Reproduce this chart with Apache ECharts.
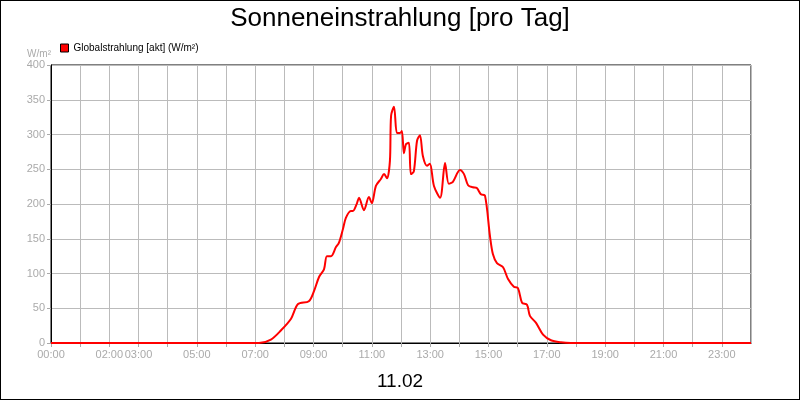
<!DOCTYPE html>
<html><head><meta charset="utf-8">
<script src="https://cdn.jsdelivr.net/npm/echarts@6/dist/echarts.min.js"></script>
<style>html,body{margin:0;padding:0;}#c{width:798px;height:398px;border:1px solid #000;background:#fff;}</style>
</head><body><div id="c"></div>
<script>
const hours = [0,7.13,7.54,7.88,8.23,8.47,8.84,9.02,9.19,9.36,9.46,9.60,9.77,9.87,10.01,10.11,10.28,10.35,10.49,10.56,10.73,10.90,11.00,11.14,11.31,11.42,11.52,11.62,11.66,11.76,11.86,11.96,12.03,12.10,12.17,12.27,12.34,12.44,12.55,12.65,12.75,12.89,12.99,13.13,13.34,13.51,13.64,13.78,14.02,14.16,14.30,14.47,14.60,14.74,14.88,15.05,15.15,15.29,15.50,15.67,15.87,16.01,16.15,16.32,16.42,16.63,16.87,17.14,17.48,17.83,24];
const values = [0,0,5,18,35,56,60,75,95,106,125,125,138,144,164,180,190,190,201,209,191,210,201,226,236,243,237,262,327,340,302,302,305,273,286,288,243,247,291,299,269,255,258,226,209,259,229,232,249,243,227,224,223,214,212,154,128,115,109,92,81,79,58,55,39,29,12,4,1,0,0];
const shownLabels = [0,2,3,5,7,9,11,13,15,17,19,21,23];
const yTicks = [0,50,100,150,200,250,300,350,400];
const title = 'Sonneneinstrahlung [pro Tag]';
const dateLabel = '11.02';
const seriesName = 'Globalstrahlung [akt] (W/m²)';
const unit = 'W/m²';
const data = hours.map((h,i)=>[h,values[i]]);
const pad = n => (n<10?'0':'')+n+':00';
const chart = echarts.init(document.getElementById('c'));
chart.setOption({
  animation:false,
  title:[{text:title,left:'center',top:0,textStyle:{fontFamily:'Arial, Liberation Sans',fontSize:26,fontWeight:'normal',color:'#000'}},
         {text:dateLabel,left:'center',top:366,textStyle:{fontFamily:'Arial, Liberation Sans',fontSize:19,fontWeight:'normal',color:'#000'}}],
  legend:{left:54,top:37,itemWidth:8,itemHeight:8,itemGap:4,icon:'rect',
    textStyle:{fontFamily:'Arial, Liberation Sans',fontSize:10,color:'#000'},data:[{name:seriesName,itemStyle:{color:'#f00',borderColor:'#000',borderWidth:1}}]},
  grid:{left:50,right:48,top:64,bottom:56,show:true,borderColor:'#000',borderWidth:1},
  xAxis:{type:'value',min:0,max:24,interval:1,
    axisLine:{lineStyle:{color:'#000'}},axisTick:{show:true,length:4,lineStyle:{color:'#aaa'}},
    splitLine:{lineStyle:{color:'#bbb'}},
    axisLabel:{color:'#aaa',fontFamily:'Arial, Liberation Sans',fontSize:11,margin:6,showMaxLabel:false,
      formatter:v=>shownLabels.includes(v)?pad(v):''}},
  yAxis:{type:'value',min:yTicks[0],max:yTicks[yTicks.length-1],interval:50,name:unit,
    nameTextStyle:{color:'#aaa',fontSize:10,align:'right',padding:[0,0,-4,0]},nameGap:6,
    axisLine:{show:true,lineStyle:{color:'#000'}},axisTick:{show:true,length:4,lineStyle:{color:'#aaa'}},
    splitLine:{lineStyle:{color:'#bbb'}},
    axisLabel:{color:'#aaa',fontFamily:'Arial, Liberation Sans',fontSize:11,margin:6}},
  series:[{name:seriesName,type:'line',data:data,showSymbol:false,smooth:0.3,
    lineStyle:{color:'#f00',width:2},itemStyle:{color:'#f00'}}]
});
</script></body></html>
